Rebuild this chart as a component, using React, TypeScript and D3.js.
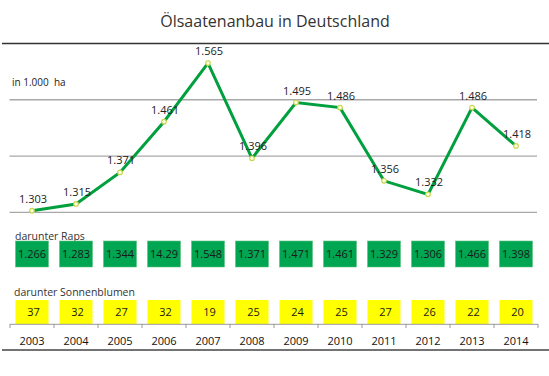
import React from "react";
import * as d3 from "d3";

const years = ["2003","2004","2005","2006","2007","2008","2009","2010","2011","2012","2013","2014"];
const totalArea = [1303,1315,1371,1461,1565,1396,1495,1486,1356,1332,1486,1418];
const rapsLabels = ["1.266","1.283","1.344","14.29","1.548","1.371","1.471","1.461","1.329","1.306","1.466","1.398"];
const sonnenblumen = [37,32,27,32,19,25,24,25,27,26,22,20];
const gridValues = [1300,1400,1500];

const W = 549, H = 376;
const FONT = "'Open Sans', 'DejaVu Sans', sans-serif";

const de = d3.formatLocale({ decimal: ",", thousands: ".", grouping: [3], currency: ["", " €"] });
const fmt = de.format(",d");

export default function App() {
  const x = d3.scaleBand<string>().domain(years).range([10, 538]);
  const bw = x.bandwidth();
  const cx = (yr: string) => (x(yr) as number) + bw / 2;
  const y = d3.scaleLinear().domain([1300, 1600]).range([212.4, 43.4]);
  const line = d3.line<number>().x((_, i) => cx(years[i])).y((d) => y(d));
  const boxW = 33;

  return (
    <svg width={W} height={H} style={{ position: "absolute", left: 0, top: 0, background: "#fff" }} fontFamily={FONT}>
      <text x={275} y={27} textAnchor="middle" fontSize={16} fill="#333">Ölsaatenanbau in Deutschland</text>
      <line x1={2} x2={549} y1={43.4} y2={43.4} stroke="#333" strokeWidth={1.5} />
      <line x1={2} x2={549} y1={350} y2={350} stroke="#444" strokeWidth={1.5} />
      {gridValues.map((g) => (
        <line key={g} x1={9.5} x2={537} y1={y(g)} y2={y(g)} stroke="#a8a8a8" strokeWidth={1.3} />
      ))}
      <text x={12} y={86} fontSize={10} fill="#222" style={{ whiteSpace: "pre" }}>{"in 1.000  ha"}</text>
      <path d={line(totalArea) || ""} fill="none" stroke="#00a03e" strokeWidth={3} strokeLinejoin="miter" />
      {totalArea.map((v, i) => (
        <circle key={i} cx={cx(years[i])} cy={y(v)} r={2.3} fill="#fffde0" stroke="#c5d64a" strokeWidth={1.1} />
      ))}
      {totalArea.map((v, i) => (
        <text key={"l" + i} x={cx(years[i]) + 1} y={y(v) - 8} textAnchor="middle" fontSize={11} fill="#222">{fmt(v)}</text>
      ))}
      <text x={15} y={239.5} fontSize={10.5} fill="#333">darunter Raps</text>
      {rapsLabels.map((r, i) => (
        <g key={"r" + i}>
          <rect x={cx(years[i]) - boxW / 2} y={241} width={boxW} height={26} fill="#00a651" stroke="#5fc27f" strokeWidth={0.6} />
          <text x={cx(years[i])} y={258} textAnchor="middle" fontSize={11} fill="#1a1a1a">{r}</text>
        </g>
      ))}
      <text x={14} y={296} fontSize={10.5} fill="#333">darunter Sonnenblumen</text>
      {sonnenblumen.map((s, i) => (
        <g key={"s" + i}>
          <rect x={cx(years[i]) - boxW / 2} y={300} width={boxW} height={24} fill="#ffff00" />
          <text x={cx(years[i]) + 1.5} y={316} textAnchor="middle" fontSize={11} fill="#1a1a1a">{s}</text>
        </g>
      ))}
      <line x1={10} x2={538} y1={324.3} y2={324.3} stroke="#999" strokeWidth={1} />
      {years.map((yr) => (
        <line key={"t" + yr} x1={x(yr) as number} x2={x(yr) as number} y1={324} y2={328} stroke="#999" strokeWidth={1} />
      ))}
      <line x1={538} x2={538} y1={324} y2={328} stroke="#999" strokeWidth={1} />
      {years.map((yr) => (
        <text key={"y" + yr} x={cx(yr)} y={344.5} textAnchor="middle" fontSize={11} fill="#111">{yr}</text>
      ))}
    </svg>
  );
}
